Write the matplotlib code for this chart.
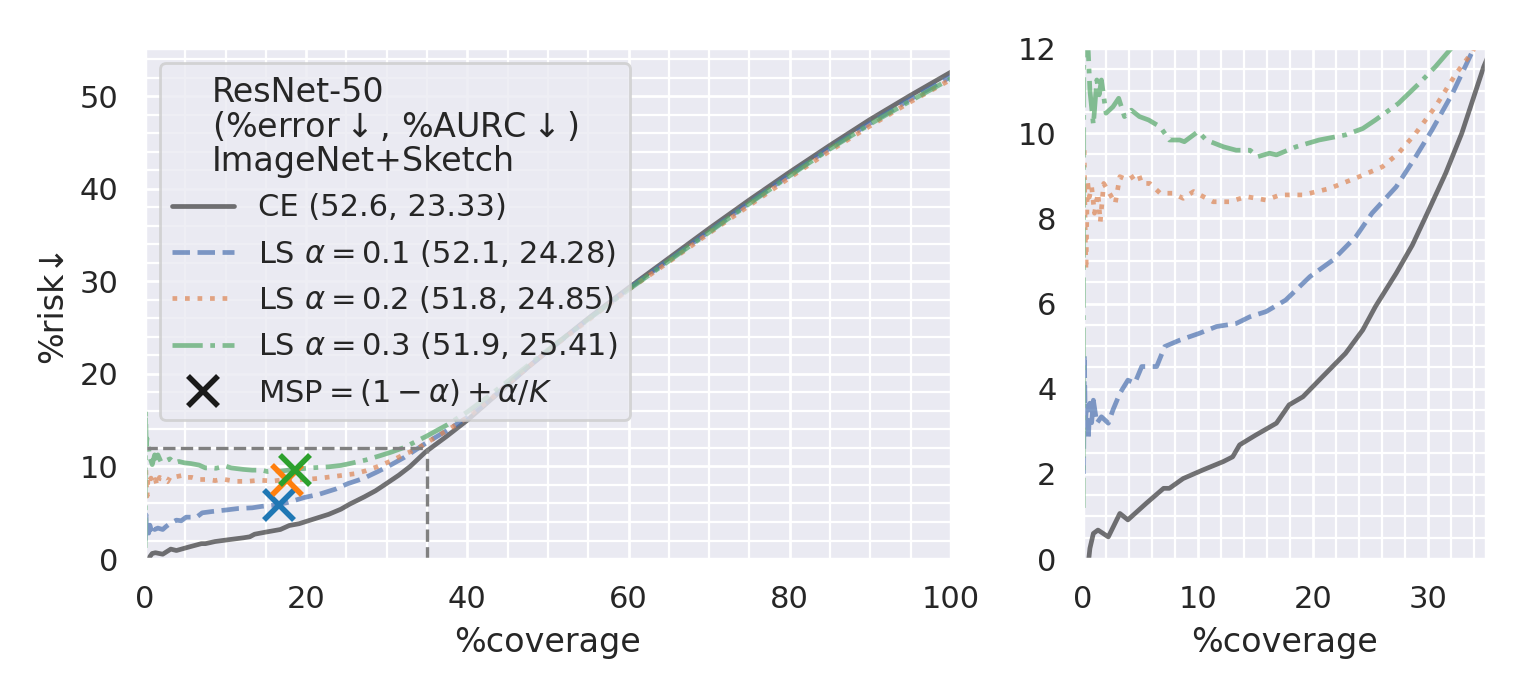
import matplotlib
matplotlib.use("Agg")
import matplotlib.pyplot as plt
import seaborn as sns
from matplotlib.ticker import MultipleLocator

# risk-coverage curves (coverage %, risk %)
ce_cov = [0.5, 0.6, 0.9, 1.3, 2.2, 3.2, 3.9, 5.5, 7.0, 7.5, 8.7, 10.4, 12.2, 13.0, 13.6,
          15.0, 16.8, 17.9, 19.1, 20.8, 22.8, 24.3, 25.4, 27.2, 28.6, 29.9, 31.5, 32.9,
          34.8, 37.5, 40, 42.5, 45, 47.5, 50, 55, 60, 65, 70, 75, 80, 85, 90, 95, 100]
ce_risk = [0.0, 0.25, 0.6, 0.68, 0.52, 1.07, 0.92, 1.31, 1.66, 1.66, 1.89, 2.09, 2.29, 2.40,
           2.68, 2.91, 3.19, 3.62, 3.81, 4.28, 4.83, 5.38, 5.93, 6.71, 7.37, 8.12, 9.06,
           10.0, 11.56, 13.3, 15.0, 16.9, 18.8, 20.7, 22.5, 26.0, 29.3, 32.5, 35.7, 38.8,
           41.8, 44.7, 47.5, 50.1, 52.6]

ls1_cov = [0.05, 0.12, 0.2, 0.3, 0.46, 0.6, 0.75, 0.9, 1.2, 1.6, 2.2, 2.6, 3.2, 3.9, 4.5,
           5.1, 6.4, 7.1, 8.4, 10.1, 11.6, 13.3, 14.5, 15.9, 17.6, 19.7, 21.7, 23.7, 25.1,
           27.2, 28.9, 30.3, 32.1, 33.8, 35, 37.5, 40, 42.5, 45, 47.5, 50, 55, 60, 65, 70,
           75, 80, 85, 90, 95, 100]
ls1_risk = [2.0, 4.8, 3.1, 3.6, 2.8, 3.66, 3.2, 3.73, 3.19, 3.34, 3.19, 3.5, 3.89, 4.2,
            4.13, 4.52, 4.52, 4.99, 5.14, 5.3, 5.46, 5.53, 5.69, 5.81, 6.08, 6.63, 7.02,
            7.57, 8.12, 8.74, 9.45, 10.07, 10.94, 11.91, 12.6, 13.9, 15.3, 17.0, 18.9,
            20.7, 22.5, 25.9, 29.2, 32.3, 35.4, 38.5, 41.5, 44.4, 47.1, 49.7, 52.1]

ls2_cov = [0.1, 0.2, 0.26, 0.38, 0.55, 0.75, 1.0, 1.3, 1.5, 1.8, 2.3, 2.8, 3.2, 3.9, 4.8,
           5.1, 5.8, 6.7, 7.8, 8.7, 9.6, 11.3, 12.7, 14.2, 15.9, 17.1, 19.1, 21.4, 24.0,
           26.0, 27.4, 28.9, 30.6, 32.4, 33.8, 35, 37.5, 40, 42.5, 45, 47.5, 50, 55, 60,
           65, 70, 75, 80, 85, 90, 95, 100]
ls2_risk = [9.6, 7.5, 6.79, 8.9, 8.5, 8.74, 8.12, 8.59, 7.92, 8.82, 8.59, 8.35, 8.98, 8.9,
            9.06, 8.82, 8.82, 8.59, 8.59, 8.47, 8.63, 8.39, 8.39, 8.51, 8.43, 8.55, 8.55,
            8.7, 8.98, 9.21, 9.53, 10.0, 10.62, 11.4, 11.9, 12.6, 13.9, 15.3, 17.0, 18.9,
            20.7, 22.5, 25.8, 29.1, 32.1, 35.2, 38.2, 41.2, 44.1, 46.8, 49.4, 51.8]

ls3_cov = [0.03, 0.08, 0.15, 0.25, 0.46, 0.6, 0.9, 1.2, 1.4, 1.6, 2.0, 2.6, 3.1, 3.6, 4.2,
           4.9, 5.7, 6.7, 7.5, 8.4, 8.8, 10.0, 10.7, 12.2, 13.3, 14.5, 15.2, 16.2, 16.8,
           18.5, 20.5, 22.8, 24.3, 25.4, 27.4, 29.2, 30.6, 32.1, 35, 37.5, 40, 42.5, 45,
           47.5, 50, 55, 60, 65, 70, 75, 80, 85, 90, 95, 100]
ls3_risk = [1.2, 16.0, 12.2, 13.0, 11.9, 11.0, 10.2, 11.25, 10.9, 11.25, 10.47, 10.62,
            10.82, 10.39, 10.54, 10.39, 10.31, 10.15, 9.84, 9.84, 9.8, 10.04, 9.84, 9.68,
            9.6, 9.6, 9.45, 9.53, 9.49, 9.68, 9.84, 9.96, 10.11, 10.31, 10.7, 11.17, 11.56,
            12.03, 13.3, 14.5, 15.9, 17.5, 19.2, 20.9, 22.6, 25.9, 29.1, 32.2, 35.3, 38.4,
            41.4, 44.3, 47.0, 49.5, 51.9]

# coverage/risk where the MSP equals (1-alpha)+alpha/K
msp_cov = [16.6, 17.6, 18.6]
msp_risk = [5.8, 8.5, 9.65]
msp_colors = ["tab:blue", "tab:orange", "tab:green"]

labels = ["CE (52.6, 23.33)",
          r"LS $\alpha=0.1$ (52.1, 24.28)",
          r"LS $\alpha=0.2$ (51.8, 24.85)",
          r"LS $\alpha=0.3$ (51.9, 25.41)"]

sns.set_theme(style="darkgrid")
fig = plt.figure(figsize=(7.615, 3.455), dpi=200)
ax = fig.add_axes([0.0952, 0.191, 0.5292, 0.7395])
ax2 = fig.add_axes([0.7111, 0.191, 0.2646, 0.7395])

deep = sns.color_palette("deep")
curves = [(ce_cov, ce_risk, "k", "-", 0.6),
          (ls1_cov, ls1_risk, deep[0], "--", 0.7),
          (ls2_cov, ls2_risk, deep[1], ":", 0.7),
          (ls3_cov, ls3_risk, deep[2], "-.", 0.7)]

for a in (ax, ax2):
    for (x, y, c, st, al), lab in zip(curves, labels):
        a.plot(x, y, color=c, ls=st, lw=1.7, alpha=al, label=lab)

# guide box for the zoomed panel
ax.plot([0, 35], [12, 12], color="gray", ls="--", lw=1.2)
ax.plot([35, 35], [0, 12], color="gray", ls="--", lw=1.2)

for x, y, c in zip(msp_cov, msp_risk, msp_colors):
    ax.plot(x, y, "x", color=c, ms=11, mew=2)
ax.plot([], [], "x", color="k", ms=11, mew=2, label=r"MSP$=(1-\alpha)+\alpha/K$")

ax.set_xlim(0, 100)
ax.set_ylim(0, 55.2)
ax.xaxis.set_major_locator(MultipleLocator(20))
ax.xaxis.set_minor_locator(MultipleLocator(5))
ax.yaxis.set_major_locator(MultipleLocator(10))
ax.yaxis.set_minor_locator(MultipleLocator(2))
ax.set_xlabel("%coverage")
ax.set_ylabel("%risk↓")

ax2.set_xlim(0, 35)
ax2.set_ylim(0, 12)
ax2.xaxis.set_major_locator(MultipleLocator(10))
ax2.xaxis.set_minor_locator(MultipleLocator(2))
ax2.yaxis.set_major_locator(MultipleLocator(2))
ax2.yaxis.set_minor_locator(MultipleLocator(0.5))
ax2.set_xlabel("%coverage")

for a in (ax, ax2):
    a.grid(which="minor", color="white", lw=0.8)
    a.tick_params(which="minor", length=0)

leg = ax.legend(loc="upper left",
                title="ResNet-50\n(%error$\\downarrow$, %AURC$\\downarrow$)\nImageNet+Sketch",
                fontsize=11, title_fontsize=12, framealpha=0.8)
leg.get_title().set_linespacing(1.05)

fig.savefig("out.png", dpi=200)
